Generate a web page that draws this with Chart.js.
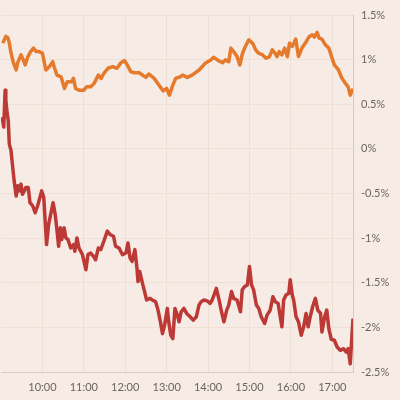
<!DOCTYPE html>
<html>
<head>
<meta charset="utf-8">
<script src="https://cdn.jsdelivr.net/npm/chart.js@4.4.1/dist/chart.umd.min.js"></script>
<style>
html,body{margin:0;padding:0;background:#f7ebe5;}
#wrap{width:400px;height:400px;position:relative;}
canvas{display:block;}
</style>
</head>
<body>
<div id="wrap"><canvas id="c" width="400" height="400"></canvas></div>
<script>
// minutes after 09:00
const orangeTimes = [2.5,7,10,12,14.5,18,22,24,29,31,35,39,43,47,51,55,60,65,70,75,77,81,87,92,96,102,105,108,113,120,124,130,135,141,145,149,155,162,168,174,179,183,188,193,200,205,210,214,222,229,235,240,244,248,253,260,263,270,277,287,296,304,308,315,321,325,330,333,337,342,346,350,354,359,365,369,373,379,384,389,393,397,400,403,407,411,415,418,422,427,431,436,441,446,451,454,458,461,465,470,475,479,483,489,494,499,503,506,509,510];
const orangeValues = [1.185,1.26,1.245,1.19,1.075,0.963,0.884,0.963,1.053,1.019,0.94,1.034,1.09,1.129,1.09,1.09,1.072,0.884,0.921,0.977,0.921,0.827,0.808,0.677,0.752,0.752,0.79,0.677,0.658,0.658,0.695,0.695,0.734,0.827,0.79,0.846,0.903,0.921,0.903,0.966,0.989,0.94,0.865,0.853,0.853,0.827,0.801,0.839,0.79,0.714,0.65,0.677,0.602,0.695,0.79,0.808,0.827,0.801,0.827,0.884,0.959,0.997,1.027,0.989,0.966,0.997,0.977,1.129,1.09,1.034,0.94,1.072,1.147,1.222,1.177,1.109,1.072,1.053,1.016,1.034,1.109,1.072,1.034,1.09,1.053,1.129,1.034,1.185,1.147,1.23,1.034,1.129,1.185,1.253,1.279,1.253,1.305,1.242,1.23,1.166,1.129,1.034,0.94,0.884,0.79,0.734,0.695,0.602,0.658,0.639];
const redTimes = [1.5,4,6,7,9,10.5,12,14.5,17,19,22,24,26.5,29,31,34,36,39.5,42,46,49.5,53,57,59,62,64,66,69,72,75.5,78.5,81,83.5,86,88,91.5,94,97,101,105,107,110,113,118,123,126,130,134,137,141,144.5,149,154,158,163,166,171,176,181,184,187,190,194,197,198.5,201,205,208,211,216,219,224,227.5,231,234,237,241,243,246,249,252,255.5,258,261,265,269,274,278.5,283,287,290,294,299,303,306,309.5,312,316,319.5,323,327,330,334,337,342,347,349.5,353,357,360,363,366,370,373.5,377,382,385.5,390,394,397.5,401.5,405,407,409.5,413,417,419,422,424,427.5,431,435,438.5,442,445,448,451.5,455.5,459,463,465,469,472,475,478.5,483,487,491.5,496.5,500,503,506,510];
const redValues = [0.357,0.244,0.658,0.545,0.395,0.319,0.056,-0.019,-0.208,-0.358,-0.527,-0.414,-0.471,-0.395,-0.508,-0.471,-0.433,-0.433,-0.603,-0.64,-0.716,-0.64,-0.527,-0.471,-0.546,-0.809,-1.072,-0.847,-0.734,-0.603,-0.734,-0.903,-1.091,-0.885,-1.016,-0.885,-0.998,-1.016,-1.111,-1.072,-1.148,-0.998,-1.111,-1.185,-1.354,-1.185,-1.167,-1.204,-1.242,-1.111,-1.129,-1.035,-0.922,-0.959,-0.979,-1.091,-1.111,-1.185,-1.167,-1.054,-1.223,-1.261,-1.129,-1.336,-1.486,-1.374,-1.506,-1.599,-1.693,-1.675,-1.693,-1.712,-1.806,-1.938,-2.07,-1.975,-1.788,-1.938,-2.088,-2.126,-1.788,-1.862,-1.938,-1.825,-1.788,-1.844,-1.881,-1.919,-1.881,-1.749,-1.712,-1.693,-1.704,-1.731,-1.693,-1.618,-1.562,-1.693,-1.825,-1.938,-1.806,-1.75,-1.599,-1.675,-1.693,-1.825,-1.58,-1.543,-1.524,-1.317,-1.524,-1.58,-1.749,-1.788,-1.881,-1.957,-1.862,-1.806,-1.656,-1.712,-1.731,-1.901,-1.994,-1.693,-1.637,-1.618,-1.467,-1.637,-1.693,-1.881,-1.938,-2.088,-1.994,-1.844,-1.994,-1.881,-1.769,-1.675,-1.806,-1.844,-2.051,-1.881,-1.806,-2.014,-2.133,-2.144,-2.22,-2.257,-2.239,-2.277,-2.239,-2.409,-1.901];
const xTickLabels = ["10:00","11:00","12:00","13:00","14:00","15:00","16:00","17:00"];
const yTickValues = [1.5,1,0.5,0,-0.5,-1,-1.5,-2,-2.5];

const toPts = (t, v) => t.map((x, i) => ({x: x, y: v[i]}));
const xTickMinutes = xTickLabels.map(s => { const p = s.split(':'); return (parseInt(p[0]) - 9) * 60 + parseInt(p[1]); });

const bg = {
  id: 'bg',
  beforeDraw(chart) {
    const ctx = chart.ctx;
    ctx.save();
    ctx.fillStyle = '#f7ebe5';
    ctx.fillRect(0, 0, chart.width, chart.height);
    ctx.restore();
  }
};

new Chart(document.getElementById('c'), {
  type: 'line',
  data: {
    datasets: [
      { data: toPts(orangeTimes, orangeValues), borderColor: '#e57a2c', borderWidth: 3.5, pointRadius: 0, tension: 0, borderJoinStyle: 'round' },
      { data: toPts(redTimes, redValues), borderColor: '#bd3936', borderWidth: 3.5, pointRadius: 0, tension: 0, borderJoinStyle: 'round' }
    ]
  },
  options: {
    responsive: false,
    animation: false,
    layout: { padding: { top: 15, left: 1, right: 0, bottom: 0 } },
    plugins: { legend: { display: false }, tooltip: { enabled: false } },
    scales: {
      x: {
        type: 'linear', min: 0, max: 510,
        afterBuildTicks(s) { s.ticks = xTickMinutes.map(v => ({ value: v })); },
        afterFit(s) { s.height = 28; },
        grid: { color: '#efe0d5', drawTicks: false },
        border: { color: '#d6cbc3' },
        ticks: {
          padding: 9, color: '#6a6460', font: { family: 'Lato', size: 11 }, maxRotation: 0, autoSkip: false,
          callback(v) { const i = xTickMinutes.indexOf(v); return i >= 0 ? xTickLabels[i] : ''; }
        }
      },
      y: {
        position: 'right', min: -2.5, max: 1.5,
        afterBuildTicks(s) { s.ticks = yTickValues.map(v => ({ value: v })); },
        afterFit(s) { s.width = 47; },
        grid: { color: '#efe0d5', drawTicks: false },
        border: { color: '#d6cbc3' },
        ticks: {
          padding: 8, color: '#6a6460', font: { family: 'Lato', size: 11 },
          callback(v) { return v + '%'; }
        }
      }
    }
  },
  plugins: [bg]
});
</script>
</body>
</html>
